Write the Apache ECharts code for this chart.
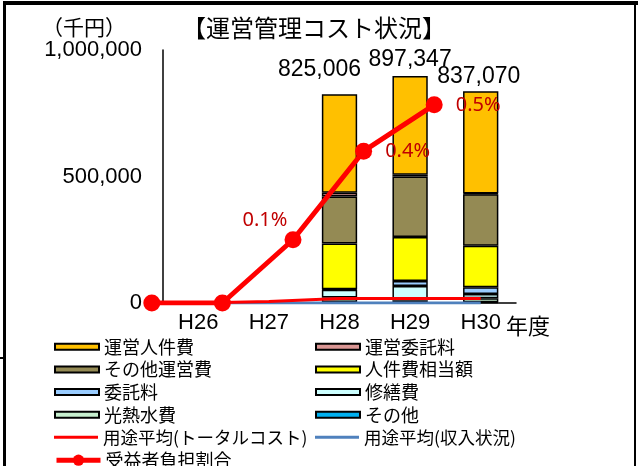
<!DOCTYPE html>
<html><head><meta charset="utf-8">
<script src="https://cdn.jsdelivr.net/npm/echarts@6/dist/echarts.min.js"></script>
<style>html,body{margin:0;padding:0;background:#fff}#c{width:638px;height:466px}</style>
</head><body><div id="c"></div>
<script>
// ---- data (千円) ----
const categories = ['H26','H27','H28','H29','H30'];
const totals = [null, null, 825006, 897347, 837070];
const uneiJinkenhi   = [null, null, 389006, 390347, 404070]; // 運営人件費
const uneiItakuryo   = [null, null, 15000, 7000, 3000];      // 運営委託料
const sonotaUneihi   = [null, null, 186000, 239000, 204000]; // その他運営費
const jinkenSoutou   = [null, null, 181000, 174000, 164000]; // 人件費相当額
const itakuryo       = [null, null, 2000, 20000, 26000];     // 委託料
const shuzenhi       = [null, null, 30000, 57000, 17000];    // 修繕費
const kounetsusuihi  = [null, null, 18000, 7000, 16000];     // 光熱水費
const sonota         = [null, null, 4000, 3000, 3000];       // その他
const avgTotalCost   = [0, 6000, 18000, 18000, 18000];       // 用途平均(トータルコスト)
const avgIncome      = [0, 0, 0, 0, 0];                      // 用途平均(収入状況)
const burdenRatio    = [0, 0, 0.15, 0.36, 0.47];             // 受益者負担割合 (%)
const burdenLabels   = ['', '', '0.1%', '0.4%', '0.5%'];
const yTicks = [0, 500000, 1000000];

// ---- styling ----
const NUM = 'Liberation Sans';
const JP = 'Noto Sans CJK JP';
const barDefs = [
  ['運営人件費', uneiJinkenhi, '#FFC000'],
  ['運営委託料', uneiItakuryo, '#DA9694'],
  ['その他運営費', sonotaUneihi, '#948A54'],
  ['人件費相当額', jinkenSoutou, '#FFFF00'],
  ['委託料', itakuryo, '#99CCFF'],
  ['修繕費', shuzenhi, '#CCFFFF'],
  ['光熱水費', kounetsusuihi, '#C6EFCE'],
  ['その他', sonota, '#00B0F0']
];
const lineColors = { '用途平均(トータルコスト)': '#FF0000', '用途平均(収入状況)': '#4F81BD' };
const totalOffsets = [[0,0],[0,0],[-20,-8],[0,0],[-2,2]];
const ratioOffsets = [[0,0],[0,0],[-28,-19],[44,0],[44,0]];

const series = [];
// stack bottom first
for (let i = barDefs.length - 1; i >= 0; i--) {
  const [name, vals, color] = barDefs[i];
  const isTop = i === 0;
  series.push({
    name, type: 'bar', stack: 'cost', barWidth: '50%',
    xAxisIndex: 0, yAxisIndex: 0,
    itemStyle: { color, borderColor: '#000', borderWidth: 1.5 },
    data: vals.map((v, k) => isTop && totals[k] != null ? {
      value: v,
      label: { show: true, position: 'top', offset: totalOffsets[k],
        formatter: () => totals[k].toLocaleString('en-US'),
        fontFamily: NUM, fontSize: 23, color: '#000' }
    } : v)
  });
}
series.push({
  name: '用途平均(トータルコスト)', type: 'line', symbol: 'none', z: 5,
  xAxisIndex: 0, yAxisIndex: 0,
  itemStyle: { color: '#FF0000' }, lineStyle: { color: '#FF0000', width: 3 },
  data: avgTotalCost
});
series.push({
  name: '用途平均(収入状況)', type: 'line', symbol: 'none', z: 4,
  xAxisIndex: 0, yAxisIndex: 0,
  itemStyle: { color: '#4F81BD' }, lineStyle: { color: '#4F81BD', width: 3 },
  data: avgIncome
});
series.push({
  name: '受益者負担割合', type: 'line', symbol: 'circle', symbolSize: 17, z: 10,
  xAxisIndex: 1, yAxisIndex: 1,
  itemStyle: { color: '#FF0000' }, lineStyle: { color: '#FF0000', width: 5 },
  data: burdenRatio.map((v, k) => ({
    value: v,
    label: { show: burdenLabels[k] !== '', position: 'inside', offset: ratioOffsets[k],
      formatter: () => burdenLabels[k], fontFamily: 'Noto Sans', fontSize: 20, color: '#C00000' }
  }))
});

const legendNames = ['運営人件費','運営委託料','その他運営費','人件費相当額','委託料','修繕費','光熱水費','その他','用途平均(トータルコスト)','用途平均(収入状況)','受益者負担割合'];
const legends = legendNames.map((n, i) => {
  const isBar = i < 8;
  const isRatio = n === '受益者負担割合';
  let item, ih = 6;
  if (isBar) item = { name: n, icon: 'rect' };
  else if (isRatio) { item = { name: n, lineStyle: { width: 5, color: '#FF0000' } }; ih = 14; }
  else { item = { name: n, icon: 'rect', itemStyle: { color: lineColors[n], borderWidth: 0 } }; ih = 3; }
  return {
    data: [item],
    left: i % 2 ? 315 : 54,
    top: 346.7 + Math.floor(i / 2) * 22.7 - 9,
    padding: 0,
    itemWidth: 44, itemHeight: ih,
    selectedMode: false,
    textStyle: { fontFamily: JP, fontSize: isBar || isRatio ? 18 : 17.5, color: '#000' }
  };
});

const option = {
  animation: false,
  backgroundColor: '#fff',
  grid: [
    { left: 163, right: 122, top: 50, bottom: 163 },
    { left: 116.5, right: 168.5, top: 50, bottom: 163 }
  ],
  xAxis: [
    { type: 'category', gridIndex: 0, data: categories,
      axisLine: { lineStyle: { color: '#000', width: 1.5 } }, axisTick: { show: false },
      axisLabel: { margin: 9, fontFamily: NUM, fontSize: 22, color: '#000' } },
    { type: 'category', gridIndex: 1, data: categories, show: false }
  ],
  yAxis: [
    { type: 'value', gridIndex: 0, min: yTicks[0], max: yTicks[yTicks.length - 1], interval: yTicks[1] - yTicks[0],
      axisLine: { show: true, lineStyle: { color: '#000', width: 1.5 } }, axisTick: { show: false },
      splitLine: { show: false },
      axisLabel: { margin: 21, fontFamily: NUM, fontSize: 22, color: '#000',
        formatter: v => v.toLocaleString('en-US') } },
    { type: 'value', gridIndex: 1, min: 0, max: 0.6, show: false, splitLine: { show: false } }
  ],
  legend: legends,
  series,
  graphic: [
    { type: 'rect', shape: { x: 3, y: 1, width: 635, height: 4 }, style: { fill: '#000' } },
    { type: 'rect', shape: { x: 3, y: 1, width: 3, height: 465 }, style: { fill: '#000' } },
    { type: 'rect', shape: { x: 634, y: 1, width: 2, height: 465 }, style: { fill: '#000' } },
    { type: 'rect', shape: { x: 0, y: 357, width: 4, height: 2 }, style: { fill: '#000' } },
    { type: 'text', x: 314, y: 28, style: { text: '【運営管理コスト状況】', fontFamily: JP, fontSize: 24, fill: '#000', textAlign: 'center', textVerticalAlign: 'middle' } },
    { type: 'text', x: 84, y: 27, style: { text: '（千円）', fontFamily: JP, fontSize: 21, fill: '#000', textAlign: 'center', textVerticalAlign: 'middle' } },
    { type: 'text', x: 506, y: 326, style: { text: '年度', fontFamily: JP, fontSize: 22, fill: '#000', textAlign: 'left', textVerticalAlign: 'middle' } }
  ]
};
const chart = echarts.init(document.getElementById('c'));
chart.setOption(option);
</script>
</body></html>
